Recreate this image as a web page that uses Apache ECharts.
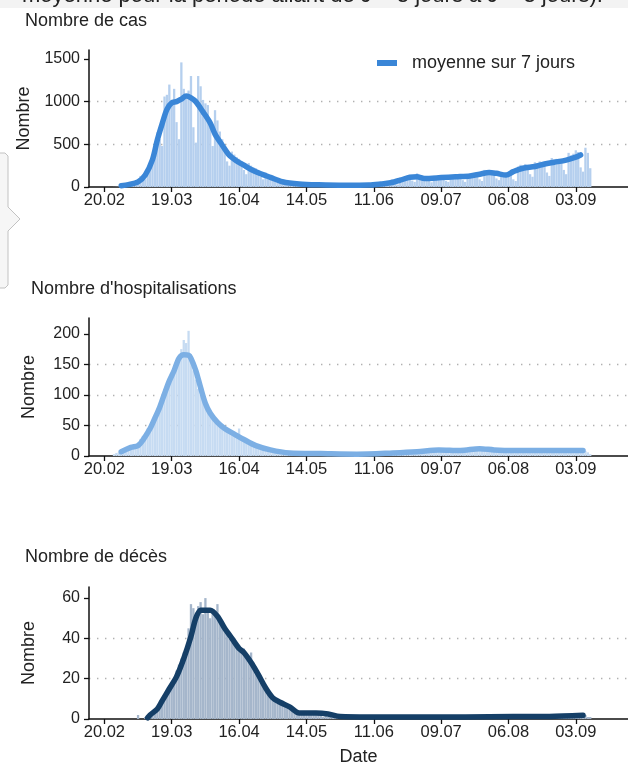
<!DOCTYPE html>
<html><head><meta charset="utf-8">
<script src="https://cdn.jsdelivr.net/npm/echarts@6/dist/echarts.min.js"></script>
<style>html,body{margin:0;padding:0;background:#fff}#c{width:628px;height:767px}</style>
</head><body><div id="c"></div>
<script>
// Day offsets are counted from 20.02.2020 (day 0)
const firstDay = 4; // first daily bar: 24.02.2020
const tickDays = [0, 28, 56, 84, 112, 140, 168, 196];

const casesTicks = [0, 500, 1000, 1500];
const hospTicks = [0, 50, 100, 150, 200];
const deathTicks = [0, 20, 40, 60];

const casesDaily = [
  1, 2, 4, 8, 12, 10, 15,
  35, 50, 65, 90, 130, 110, 90,
  210, 290, 380, 470, 640, 560, 480,
  1060, 1080, 1200, 1020, 1150, 760, 560,
  1460, 1150, 1050, 1130, 1300, 700, 520,
  1300, 1180, 1020, 980, 960, 700, 480,
  900, 780, 650, 560, 420, 300, 250,
  415, 380, 350, 330, 300, 200, 150,
  280, 250, 230, 220, 200, 120, 90,
  170, 150, 140, 130, 110, 70, 50,
  75, 65, 60, 50, 45, 30, 20,
  40, 35, 30, 30, 28, 15, 12,
  25, 28, 22, 20, 25, 12, 10,
  20, 18, 20, 15, 22, 10, 8,
  10, 25, 22, 20, 25, 12, 8,
  25, 28, 30, 25, 28, 15, 10,
  40, 45, 55, 60, 65, 40, 30,
  110, 115, 120, 130, 140, 75, 60,
  160, 140, 135, 130, 120, 70, 55,
  130, 120, 125, 130, 120, 70, 60,
  140, 135, 130, 140, 135, 80, 60,
  150, 155, 145, 150, 155, 90, 70,
  200, 190, 200, 190, 170, 100, 80,
  170, 150, 140, 150, 160, 90, 70,
  240, 260, 250, 270, 260, 150, 120,
  290, 280, 300, 290, 280, 170, 130,
  340, 320, 330, 330, 320, 200, 150,
  400, 370, 390, 430, 410, 230, 180,
  460, 400, 220
];
const casesAvg = [
  [7,15],[10,28],[14,60],[17,140],[20,320],[22,550],[24,740],[26,910],[28,985],[30,1000],
  [32,1030],[34,1065],[36,1045],[38,1000],[41,880],[44,750],[46,620],[49,490],[52,370],
  [55,305],[58,255],[61,205],[65,155],[69,113],[74,62],[81,35],[89,25],[100,20],[110,22],
  [115,35],[119,50],[123,80],[127,115],[130,120],[133,100],[140,110],[146,120],[152,130],
  [156,150],[160,170],[163,160],[167,140],[170,180],[174,220],[179,240],[183,270],[187,290],
  [192,315],[196,350],[198,375]
];

const hospDaily = [
  3, 5, 6, 8, 10, 12, 9,
  14, 16, 18, 22, 28, 33, 38,
  45, 50, 58, 62, 70, 78, 90,
  110, 118, 122, 130, 140, 150, 155,
  175, 190, 185, 205, 160, 140, 125,
  110, 100, 90, 80, 75, 65, 60,
  62, 58, 52, 48, 45, 40, 38,
  40, 36, 35, 45, 30, 26, 22,
  24, 22, 20, 18, 16, 13, 12,
  14, 12, 11, 10, 9, 8, 7,
  8, 7, 6, 6, 5, 4, 4,
  5, 4, 4, 3, 3, 2, 3,
  3, 3, 2, 3, 2, 2, 2,
  2, 3, 2, 2, 3, 1, 2,
  2, 2, 3, 2, 2, 1, 2,
  3, 2, 3, 3, 2, 2, 3,
  4, 3, 4, 5, 4, 3, 4,
  5, 6, 5, 6, 7, 5, 6,
  8, 7, 8, 9, 7, 6, 7,
  10, 9, 11, 10, 9, 8, 9,
  10, 11, 9, 10, 11, 9, 10,
  12, 11, 13, 12, 14, 11, 12,
  13, 12, 11, 12, 10, 9, 10,
  9, 10, 9, 8, 10, 8, 9,
  9, 10, 8, 9, 10, 8, 9,
  9, 8, 10, 9, 8, 9, 8,
  9, 10, 8, 9, 10, 8, 9,
  10, 9, 8, 9, 10, 8, 9,
  8, 6, 3
];
const hospAvg = [
  [7,7],[11,14],[14,17],[16,26],[19,45],[21,62],[23,80],[25,102],[27,123],[29,140],[31,160],
  [33,166],[35,165],[36,160],[38,140],[40,112],[42,86],[44,70],[47,55],[50,45],[54,36],
  [58,27],[63,17],[69,10],[77,5],[90,4],[105,3],[120,5],[130,7],[139,10],[148,9],[156,12],
  [162,10],[170,9],[180,9],[190,9],[199,9]
];

const deathDaily = [
  0, 0, 0, 0, 0, 0, 0,
  0, 0, 0, 2, 0, 0, 1,
  2, 3, 4, 5, 6, 8, 9,
  11, 14, 16, 18, 20, 24, 27,
  30, 33, 36, 45, 57, 55, 52,
  56, 58, 52, 60, 55, 50, 54,
  52, 57, 48, 47, 45, 42, 40,
  38, 40, 36, 34, 33, 35, 32,
  30, 33, 28, 26, 22, 18, 16,
  14, 12, 11, 10, 9, 8, 8,
  9, 7, 6, 6, 5, 4, 4,
  3, 4, 4, 3, 3, 2, 3,
  3, 2, 2, 1, 2, 1, 1,
  1, 1, 1, 0, 1, 1, 0,
  1, 1, 0, 1, 1, 1, 0,
  1, 0, 1, 1, 0, 1, 1,
  1, 1, 0, 1, 1, 1, 1,
  1, 1, 1, 0, 1, 1, 1,
  1, 0, 1, 1, 1, 0, 1,
  1, 1, 1, 1, 0, 1, 1,
  1, 1, 0, 1, 1, 1, 1,
  1, 1, 1, 1, 1, 0, 1,
  1, 1, 1, 2, 1, 1, 1,
  1, 1, 1, 1, 1, 0, 1,
  1, 2, 1, 1, 1, 1, 1,
  1, 1, 2, 1, 1, 1, 1,
  2, 1, 1, 1, 2, 1, 1,
  2, 2, 1, 2, 2, 1, 2,
  2, 1, 1
];
const deathAvg = [
  [18,0.6],[19,2],[22,5],[24,9],[27,15],[30,21],[33,30],[36,41],[38,50],[40,54],[42,54],
  [44,54],[47,51],[50,45],[53,40],[56,35],[58,33],[61,28],[64,22],[67,15.5],[70,10.5],
  [73,8.3],[77,6],[81,3],[88,3],[93,2.5],[98,1.2],[110,1],[130,1],[150,1],[170,1.2],
  [185,1.3],[199,1.8]
];

const titles = ['Nombre de cas', "Nombre d'hospitalisations", 'Nombre de décès'];
const legendLabel = 'moyenne sur 7 jours';
const yName = 'Nombre';
const xName = 'Date';
const headerText = 'moyenne pour la période allant de J − 3 jours à J + 3 jours).';

const FONT = '"Liberation Sans", Arial, Helvetica, sans-serif';
function dayLabel(d) {
  const dt = new Date(Date.UTC(2020, 1, 20 + Math.round(d)));
  return String(dt.getUTCDate()).padStart(2, '0') + '.' + String(dt.getUTCMonth() + 1).padStart(2, '0');
}
function toPairs(arr) { return arr.map((v, i) => [firstDay + i, v]); }

const gridDefs = [
  { left: 89, width: 539, top: 50, height: 137 },
  { left: 89, width: 539, top: 318, height: 138 },
  { left: 89, width: 539, top: 587, height: 137 }
];
const yMax = [1605, 226, 65.5];
const yInt = [500, 50, 20];
const yTicks = [casesTicks, hospTicks, deathTicks];

const xAxes = gridDefs.map((g, i) => ({
  type: 'value', gridIndex: i, min: -6.4, max: 217.7,
  name: i === 2 ? xName : '', nameLocation: 'middle', nameGap: 29,
  nameTextStyle: { fontSize: 18, color: '#222', fontFamily: FONT },
  axisLine: { show: true, onZero: false, lineStyle: { color: '#111', width: 1.5 } },
  axisTick: { show: true, customValues: tickDays, length: 5, lineStyle: { color: '#111', width: 1.3 } },
  axisLabel: { customValues: tickDays, formatter: dayLabel, fontSize: 16.5, color: '#222', margin: 5, fontFamily: FONT },
  splitLine: { show: false }
}));
const yAxes = gridDefs.map((g, i) => ({
  type: 'value', gridIndex: i, min: 0, max: yMax[i], interval: yInt[i],
  name: yName, nameLocation: 'middle', nameRotate: 90, nameGap: 51,
  nameTextStyle: { fontSize: 18, color: '#222', fontFamily: FONT },
  axisLine: { show: true, onZero: false, lineStyle: { color: '#111', width: 1.5 } },
  axisTick: { show: true, customValues: yTicks[i], length: 5, lineStyle: { color: '#111', width: 1.3 } },
  axisLabel: { customValues: yTicks[i], formatter: v => String(v), fontSize: 16, color: '#222', margin: 9, fontFamily: FONT },
  splitLine: { show: true, showMinLine: false, showMaxLine: false, lineStyle: { color: '#b0b0b0', width: 1.4, type: [1.4, 6.6] } }
}));

const barColors = ['#b5cfee', '#c6dbf2', '#a5b6cb'];
const lineColors = ['#3a86d7', '#7cafe4', '#153f67'];
const dailies = [casesDaily, hospDaily, deathDaily];
const avgs = [casesAvg, hospAvg, deathAvg];

const series = [];
for (let i = 0; i < 3; i++) {
  series.push({
    type: 'bar', name: 'daily' + i, xAxisIndex: i, yAxisIndex: i, barWidth: 2.3,
    data: toPairs(dailies[i]), itemStyle: { color: barColors[i] }, silent: true, z: 2
  });
  series.push({
    type: 'line', name: i === 0 ? legendLabel : 'avg' + i, xAxisIndex: i, yAxisIndex: i,
    data: avgs[i], showSymbol: false, smooth: 0.3,
    lineStyle: { color: lineColors[i], width: 5.5, cap: 'round', join: 'round' },
    itemStyle: { color: lineColors[i] }, z: 3
  });
}

const titleStyle = { fontSize: 18, fontWeight: 'normal', color: '#222', fontFamily: FONT };
const chart = echarts.init(document.getElementById('c'));
chart.setOption({
  animation: false,
  backgroundColor: '#fff',
  textStyle: { fontFamily: FONT },
  title: [
    { text: titles[0], left: 20, top: 7, textStyle: titleStyle },
    { text: titles[1], left: 26, top: 275, textStyle: titleStyle },
    { text: titles[2], left: 20, top: 543, textStyle: titleStyle }
  ],
  legend: {
    data: [legendLabel], left: 372, top: 49, icon: 'rect', itemWidth: 20, itemHeight: 6,
    textStyle: { fontSize: 18, color: '#222', fontFamily: FONT, padding: [0, 0, 0, 10] }
  },
  grid: gridDefs,
  xAxis: xAxes,
  yAxis: yAxes,
  series: series,
  graphic: [
    { type: 'rect', shape: { x: 0, y: 0, width: 628, height: 8 }, style: { fill: '#f3f3f3' }, z: 0 },
    { type: 'text', left: 22, top: -15, style: { text: headerText, font: '22px ' + FONT, fill: '#222' }, z: 1 },
    { type: 'polygon', shape: { points: [[-2,153],[5,153],[8,156],[8,207],[20,219],[8,231],[8,285],[5,288],[-2,288]] },
      style: { fill: '#f6f6f6', stroke: '#c2c2c2', lineWidth: 1 }, z: 1 }
  ]
});
</script></body></html>
